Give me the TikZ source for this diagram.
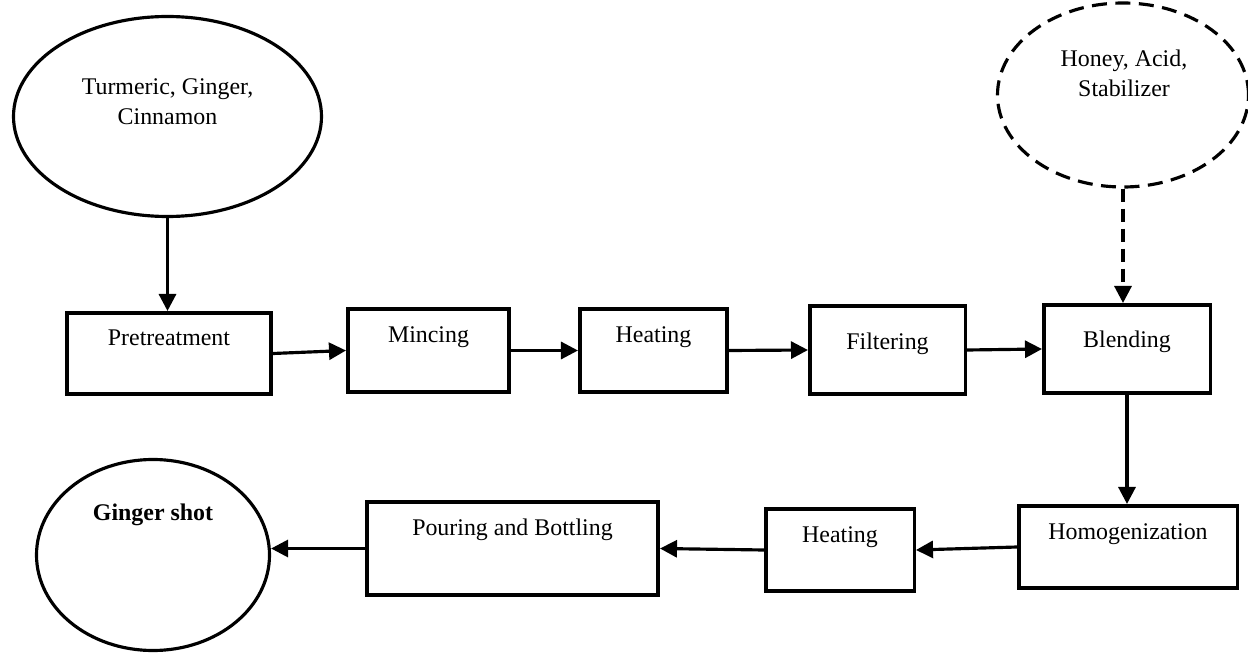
\documentclass[tikz,border=0pt]{standalone}
\usepackage{fontspec}
\setmainfont{Liberation Serif}
\usetikzlibrary{arrows.meta,shapes.geometric}

\begin{document}
\begin{tikzpicture}[
  every node/.style={font=\fontsize{13.6}{17}\selectfont},
  stepbox/.style={draw, line width=2pt, rectangle, text height=0.3cm, text depth=0.62cm},
  source/.style={draw, line width=1.8pt, ellipse},
  flow/.style={line width=1.8pt, -{Triangle[length=0.34cm,width=0.34cm]}},
]
\useasboundingbox (0,0) rectangle (24.96,-13.08);
% raw materials and additives
\node[source, minimum width=6.16cm, minimum height=4.0cm] (spices) at (3.35,-2.33) {};
\node[align=center] (spicestext) at (3.35,-2.04) {Turmeric, Ginger,\\Cinnamon};
\node[source, dash pattern=on 0.3cm off 0.17cm, minimum width=5.02cm, minimum height=3.68cm] (additives) at (22.46,-1.9) {};
\node[align=center] (additivestext) at (22.48,-1.46) {Honey, Acid,\\Stabilizer};

% first row
\node[stepbox, minimum width=4.09cm, minimum height=1.63cm] (pre) at (3.38,-7.07) {Pretreatment};
\node[stepbox, minimum width=3.23cm, minimum height=1.67cm] (mince) at (8.57,-7.01) {Mincing};
\node[stepbox, minimum width=2.95cm, minimum height=1.67cm] (heatA) at (13.07,-7.01) {Heating};
\node[stepbox, minimum width=3.11cm, minimum height=1.77cm, text depth=0.32cm] (filter) at (17.75,-7.0) {Filtering};
\node[stepbox, minimum width=3.33cm, minimum height=1.77cm, text depth=0.34cm] (blend) at (22.54,-6.98) {Blending};

% second row
\node[stepbox, minimum width=4.37cm, minimum height=1.65cm] (homog) at (22.56,-10.94) {Homogenization};
\node[stepbox, minimum width=2.97cm, minimum height=1.65cm] (heatB) at (16.8,-11.0) {Heating};
\node[stepbox, minimum width=5.83cm, minimum height=1.87cm, text depth=0.84cm] (bottle) at (10.25,-10.97) {Pouring and Bottling};
\node[source, minimum width=4.66cm, minimum height=3.82cm] (shot) at (3.06,-11.1) {};
\node[font=\fontsize{13.6}{17}\selectfont\bfseries] (shottext) at (3.06,-10.3) {Ginger shot};

% arrows
\draw[flow] (spices.south) -- (spices.south |- pre.north);
\draw[flow, dash pattern=on 0.26cm off 0.14cm] (additives.south) -- (additives.south |- blend.north);
\draw[flow] (pre.east) -- (mince.west);
\draw[flow] (mince.east) -- (heatA.west);
\draw[flow] (heatA.east) -- (filter.west);
\draw[flow] (filter.east) -- (blend.west);
\draw[flow] (blend.south) -- (blend.south |- homog.north);
\draw[flow] (homog.west) -- (heatB.east);
\draw[flow] (heatB.west) -- (bottle.east);
\draw[flow] (bottle.west) -- (bottle.west -| shot.east);
\end{tikzpicture}
\end{document}
